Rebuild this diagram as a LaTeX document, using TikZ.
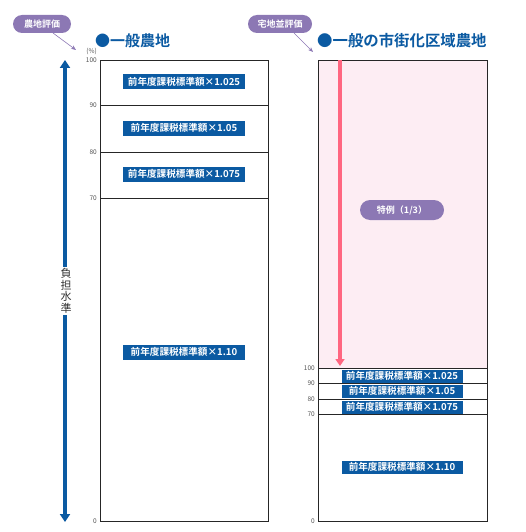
\documentclass[tikz,border=0pt]{standalone}
\usepackage{fontspec}
\setmainfont{Noto Sans CJK JP}
\newfontfamily\boldjp{Noto Sans CJK JP Bold}
\usetikzlibrary{arrows.meta}
\definecolor{cblue}{HTML}{0B5AA2}
\definecolor{cpurple}{HTML}{8C78B4}
\definecolor{cpink}{HTML}{FF6680}
\definecolor{cpinkbg}{HTML}{FDEDF3}
\definecolor{cgray}{HTML}{555555}
\tikzset{
  lbl/.style={fill=cblue,text=white,font=\boldjp\fontsize{9.6}{10}\selectfont,inner sep=0pt,minimum height=15pt,minimum width=122pt},
  lbls/.style={lbl,minimum height=13pt,minimum width=121pt},
  tick/.style={font=\fontsize{6.5}{6.5}\selectfont,text=cgray,anchor=east,inner sep=1pt},
  pill/.style={fill=cpurple,text=white,rounded corners=9pt,font=\boldjp\fontsize{9}{9}\selectfont,inner sep=0pt,minimum height=18pt},
  title/.style={text=cblue,font=\boldjp\fontsize{15}{15}\selectfont,anchor=west,inner sep=0pt},
  frame/.style={draw=black!85,line width=0.9pt}
}
\begin{document}
\begin{tikzpicture}[x=1pt,y=-1pt]
\useasboundingbox (0,0) rectangle (526,532);
% left box
\draw[frame] (100,60) rectangle (268,521);
\draw[frame] (100,105) -- (268,105);
\draw[frame] (100,152) -- (268,152);
\draw[frame] (100,198) -- (268,198);
\node[tick] at (98,60) {100};
\node[tick] at (98,105) {90};
\node[tick] at (98,152) {80};
\node[tick] at (98,198) {70};
\node[tick] at (98,521) {0};
\node[tick] at (98,51) {(\%)};
\node[lbl] (l1) at (184,82) {前年度課税標準額×1.025};
\node[lbl] (l2) at (184,128) {前年度課税標準額×1.05};
\node[lbl] (l3) at (184,174) {前年度課税標準額×1.075};
\node[lbl] (l4) at (184,352) {前年度課税標準額×1.10};
% right box
\fill[cpinkbg] (318,60) rectangle (487,368);
\draw[frame] (318,60) rectangle (487,521);
\draw[frame] (318,368) -- (487,368);
\draw[frame] (318,383) -- (487,383);
\draw[frame] (318,399) -- (487,399);
\draw[frame] (318,414) -- (487,414);
\node[tick] at (316,368) {100};
\node[tick] at (316,383) {90};
\node[tick] at (316,399) {80};
\node[tick] at (316,414) {70};
\node[tick] at (316,521) {0};
\node[lbls] (r1) at (402,376) {前年度課税標準額×1.025};
\node[lbls] (r2) at (402,391) {前年度課税標準額×1.05};
\node[lbls] (r3) at (402,407) {前年度課税標準額×1.075};
\node[lbls] (r4) at (402,467) {前年度課税標準額×1.10};
% pink arrow
\coordinate (pa) at (340,60);
\coordinate (pb) at (340,366);
\draw[cpink,line width=4pt,-{Triangle[length=7pt,width=9pt]}] (pa) -- (pb);
\node[pill,minimum width=84pt,minimum height=20pt,rounded corners=10pt] (tk) at (402,210) {特例（1/3）};
% left blue arrow
\coordinate (ba) at (65,60);
\coordinate (bb) at (65,522);
\draw[cblue,line width=3.5pt,{Triangle[length=8pt,width=10pt]}-{Triangle[length=8pt,width=10pt]}] (ba) -- (bb);
\node[fill=white,text=black!80,inner xsep=1pt,inner ysep=2pt,align=center,font=\fontsize{11}{11.5}\selectfont] (fv) at (66,291) {負\\担\\水\\準};
% titles
\node[title] (t1) at (95,41) {●一般農地};
\node[title,font=\boldjp\fontsize{15.4}{15.4}\selectfont] (t2) at (317,41) {●一般の市街化区域農地};
% callouts
\node[pill,minimum width=58pt] (c1) at (42,24) {農地評価};
\coordinate (c1t) at (76,50);
\draw[cpurple,line width=0.6pt,-{Stealth[length=5pt,width=4pt]}] (53,33) -- (c1t);
\node[pill,minimum width=64pt] (c2) at (280,24) {宅地並評価};
\coordinate (c2t) at (313,52);
\draw[cpurple,line width=0.6pt,-{Stealth[length=5pt,width=4pt]}] (294,33) -- (c2t);
\end{tikzpicture}
\end{document}
